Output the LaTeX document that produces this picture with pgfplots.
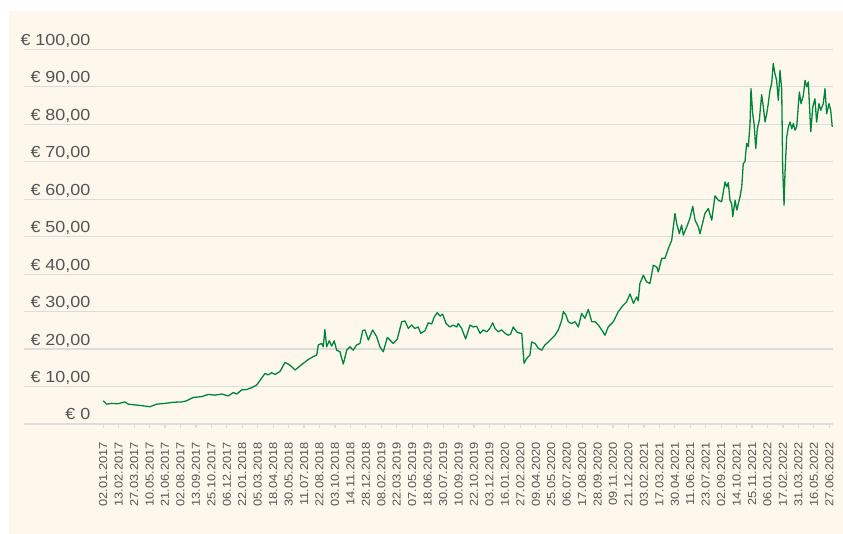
\documentclass[border=0pt]{standalone}
\usepackage{fontspec}
\setmainfont{Liberation Sans}[FakeStretch=1.12]
\usepackage{pgfplots}
\pgfplotsset{compat=1.18}
\definecolor{cream}{HTML}{FDF8EB}
\definecolor{lgreen}{RGB}{0,133,62}
\definecolor{gridc}{HTML}{DCDCDC}
\definecolor{txt}{HTML}{555555}
\begin{document}
\begin{tikzpicture}
\fill[white] (0,0) rectangle (843bp,534bp);
\fill[cream] (9bp,0) rectangle (843bp,523bp);
\begin{axis}[
  at={(24bp,110bp)}, anchor=south west,
  scale only axis, width=808.7bp, height=374.7bp,
  xmin=-5.13, xmax=47.22, ymin=0, ymax=100,
  axis line style={draw=none},
  ymajorgrids, grid style={gridc, line width=1.2bp},
  tick align=outside, major tick length=4bp,
  xtick pos=bottom, ytick pos=left,
  ytick style={draw=none},
  xtick style={gridc, line width=1.2bp},
  ytick={0,10,...,100},
  yticklabels={{€ 0},{€ 10,00},{€ 20,00},{€ 30,00},{€ 40,00},{€ 50,00},{€ 60,00},{€ 70,00},{€ 80,00},{€ 90,00},{€ 100,00}},
  yticklabel style={anchor=base east, inner sep=0pt, xshift=70.5bp, yshift=4bp, font=\fontsize{16bp}{18bp}\selectfont, text=txt},
  xtick={0,...,47},
  xticklabels={02.01.2017,13.02.2017,27.03.2017,10.05.2017,21.06.2017,02.08.2017,13.09.2017,25.10.2017,06.12.2017,22.01.2018,05.03.2018,18.04.2018,30.05.2018,11.07.2018,22.08.2018,03.10.2018,14.11.2018,28.12.2018,08.02.2019,22.03.2019,07.05.2019,18.06.2019,30.07.2019,10.09.2019,22.10.2019,03.12.2019,16.01.2020,27.02.2020,09.04.2020,25.05.2020,06.07.2020,17.08.2020,28.09.2020,09.11.2020,21.12.2020,03.02.2021,17.03.2021,30.04.2021,11.06.2021,23.07.2021,02.09.2021,14.10.2021,25.11.2021,06.01.2022,17.02.2022,31.03.2022,16.05.2022,27.06.2022},
  xticklabel style={rotate=90, anchor=east, inner sep=0pt, xshift=-14bp, font=\fontsize{11.5bp}{13bp}\selectfont, text=txt},
  clip=false,
]
\addplot[lgreen, line width=1.3bp, line join=round] coordinates {
(0.00,6.2)(0.22,5.3)(0.54,5.5)(0.95,5.4)(1.40,5.9)(1.62,5.3)(2.05,5.1)(2.49,4.9)(3.02,4.6)(3.46,5.3)
(3.99,5.5)(4.53,5.8)(5.08,5.9)(5.40,6.2)(5.83,7.1)(6.37,7.3)(6.80,7.9)(7.23,7.7)(7.66,8.0)(8.09,7.5)
(8.42,8.4)(8.64,8.0)(8.96,9.1)(9.28,9.2)(9.61,9.7)(9.93,10.4)(10.14,11.6)(10.47,13.5)(10.68,13.1)(10.90,13.7)
(11.12,13.2)(11.44,14.0)(11.76,16.4)(11.98,16.0)(12.20,15.3)(12.41,14.4)(12.62,15.1)(12.95,16.2)(13.27,17.2)(13.60,18.0)
(13.82,18.4)(13.92,21.1)(14.14,21.5)(14.24,20.6)(14.35,25.2)(14.46,20.6)(14.63,22.2)(14.79,20.8)(14.95,22.2)(15.11,19.7)
(15.32,19.3)(15.54,16.0)(15.76,19.7)(15.97,20.6)(16.18,19.7)(16.40,21.1)(16.62,21.5)(16.79,24.9)(16.94,25.1)(17.16,22.4)
(17.44,25.1)(17.70,23.3)(17.91,20.6)(18.13,19.3)(18.39,23.1)(18.56,22.4)(18.77,21.5)(19.03,22.6)(19.32,27.3)(19.53,27.5)
(19.75,25.5)(19.96,26.4)(20.18,25.5)(20.39,25.9)(20.55,24.2)(20.83,24.9)(21.04,27.0)(21.26,26.7)(21.43,28.6)(21.62,29.7)
(21.80,28.8)(21.97,29.3)(22.19,26.8)(22.44,25.9)(22.66,26.4)(22.88,25.9)(22.98,26.8)(23.20,25.5)(23.46,22.7)(23.74,26.4)
(23.95,25.9)(24.17,26.1)(24.39,24.2)(24.60,25.1)(24.82,24.6)(25.03,25.5)(25.21,27.0)(25.36,25.5)(25.57,24.6)(25.79,25.1)
(26.01,24.2)(26.22,23.7)(26.37,24.0)(26.54,25.9)(26.76,24.6)(26.98,24.2)(27.09,24.2)(27.24,16.2)(27.41,17.5)(27.62,18.4)
(27.73,21.9)(27.95,21.5)(28.16,20.2)(28.38,19.7)(28.59,21.1)(28.81,21.9)(29.03,22.8)(29.24,23.7)(29.46,25.1)(29.68,27.7)
(29.78,30.0)(29.95,29.1)(30.10,27.3)(30.32,26.8)(30.54,27.3)(30.75,25.9)(30.97,29.5)(31.18,28.2)(31.40,30.6)(31.62,27.3)
(31.83,27.3)(32.05,26.4)(32.27,25.1)(32.48,23.7)(32.69,25.9)(33.02,27.3)(33.34,30.0)(33.66,31.7)(33.88,32.6)(34.10,34.7)
(34.32,32.2)(34.53,33.9)(34.63,32.9)(34.74,37.5)(34.96,39.7)(35.18,37.9)(35.39,37.5)(35.61,42.4)(35.83,41.9)(35.93,40.6)
(36.15,44.2)(36.36,44.2)(36.58,46.8)(36.80,49.1)(37.01,56.2)(37.12,53.5)(37.29,50.8)(37.44,53.1)(37.55,50.4)(37.77,52.6)
(37.98,54.9)(38.16,58.1)(38.31,54.4)(38.52,52.6)(38.63,50.8)(38.95,56.2)(39.17,57.5)(39.39,54.4)(39.60,60.9)(39.82,59.7)
(40.03,59.3)(40.25,64.6)(40.36,63.3)(40.46,64.4)(40.57,59.7)(40.68,58.8)(40.75,55.3)(40.90,59.7)(41.01,57.1)(41.22,60.6)
(41.33,63.3)(41.43,69.5)(41.54,70.0)(41.65,74.9)(41.76,74.0)(41.87,80.2)(41.93,89.5)(42.04,82.8)(42.13,80.2)(42.24,73.5)
(42.34,78.8)(42.47,81.1)(42.62,87.9)(42.73,84.6)(42.84,80.6)(42.95,82.8)(43.05,85.5)(43.16,89.1)(43.27,90.9)(43.37,96.2)
(43.48,93.5)(43.59,91.7)(43.70,86.4)(43.81,94.4)(43.92,89.1)(43.98,68.6)(44.07,58.4)(44.13,66.8)(44.24,76.6)(44.35,79.3)
(44.46,80.6)(44.57,78.8)(44.67,80.2)(44.78,78.4)(44.89,79.3)(45.06,88.6)(45.17,85.5)(45.32,87.7)(45.43,91.7)(45.54,90.0)
(45.64,91.3)(45.80,78.0)(45.93,84.6)(46.07,86.8)(46.18,80.6)(46.33,85.5)(46.44,83.7)(46.61,85.5)(46.72,89.5)(46.83,82.8)
(46.98,85.5)(47.09,83.7)(47.19,79.3)
};
\end{axis}
\pgfresetboundingbox
\useasboundingbox (0,0) rectangle (843bp,534bp);
\end{tikzpicture}
\end{document}
